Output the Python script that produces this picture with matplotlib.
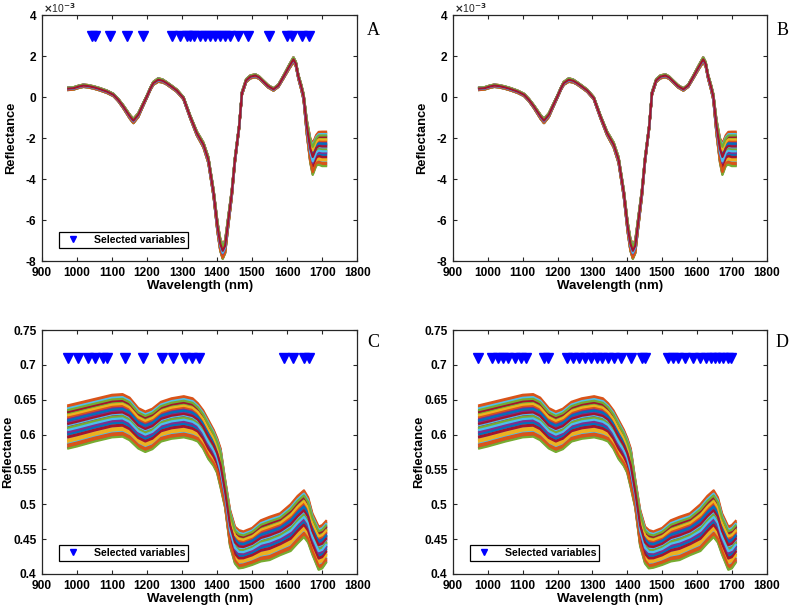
import matplotlib
matplotlib.use("Agg")
import matplotlib.pyplot as plt
import numpy as np

# ---- data ----
# derivative spectra (A, B), values in units of 1e-3
wl_deriv = [975, 990, 1005, 1018, 1030, 1047, 1065, 1085, 1104, 1118,
            1132, 1151, 1161, 1175, 1188, 1199, 1210, 1218, 1232, 1245,
            1256, 1270, 1285, 1304, 1323, 1342, 1361, 1375, 1390, 1401,
            1409, 1416, 1423, 1430, 1442, 1451, 1463, 1471, 1483, 1495,
            1509, 1520, 1532, 1546, 1561, 1575, 1590, 1605, 1618, 1625,
            1632, 1640, 1647, 1656, 1666, 1673, 1683, 1690, 1700, 1711]
deriv_mean = [0.40, 0.42, 0.50, 0.55, 0.53, 0.47, 0.38, 0.26, 0.10, -0.15,
              -0.47, -0.96, -1.17, -0.88, -0.40, 0.00, 0.42, 0.67, 0.83, 0.78,
              0.67, 0.50, 0.31, -0.06, -0.96, -1.77, -2.34, -3.07, -4.70, -6.33,
              -7.20, -7.55, -7.30, -6.33, -4.70, -3.07, -1.45, 0.18, 0.80, 0.98,
              1.04, 0.95, 0.75, 0.52, 0.37, 0.55, 0.99, 1.45, 1.82, 1.60,
              0.99, 0.50, 0.00, -1.45, -2.60, -3.03, -2.60, -2.50, -2.53, -2.53]
deriv_spread = [0.12, 0.12, 0.12, 0.12, 0.12, 0.12, 0.12, 0.12, 0.12, 0.12,
                0.15, 0.20, 0.22, 0.20, 0.15, 0.12, 0.12, 0.15, 0.18, 0.15,
                0.12, 0.12, 0.12, 0.12, 0.15, 0.20, 0.25, 0.30, 0.35, 0.50,
                0.60, 0.70, 0.65, 0.50, 0.35, 0.25, 0.18, 0.15, 0.15, 0.15,
                0.15, 0.12, 0.12, 0.12, 0.12, 0.12, 0.15, 0.20, 0.25, 0.22,
                0.20, 0.25, 0.30, 0.70, 1.20, 1.54, 1.50, 1.60, 1.68, 1.68]

# raw reflectance spectra (C, D): upper and lower envelope
wl_raw = [975, 1000, 1050, 1100, 1130, 1150, 1175, 1195, 1215, 1240,
          1270, 1305, 1330, 1345, 1360, 1375, 1390, 1400, 1410, 1423,
          1437, 1451, 1462, 1475, 1500, 1525, 1550, 1580, 1610, 1630,
          1648, 1660, 1672, 1690, 1700, 1711]
raw_top = [0.642, 0.645, 0.651, 0.657, 0.658, 0.653, 0.638, 0.633, 0.637, 0.647,
           0.652, 0.655, 0.652, 0.645, 0.635, 0.621, 0.607, 0.595, 0.580, 0.535,
           0.492, 0.468, 0.463, 0.461, 0.466, 0.477, 0.482, 0.487, 0.500, 0.512,
           0.520, 0.510, 0.487, 0.468, 0.470, 0.476]
raw_bottom = [0.580, 0.583, 0.590, 0.596, 0.597, 0.592, 0.580, 0.575, 0.579, 0.590,
              0.594, 0.596, 0.593, 0.590, 0.580, 0.565, 0.555, 0.545, 0.524, 0.495,
              0.440, 0.415, 0.408, 0.409, 0.413, 0.418, 0.420, 0.427, 0.433, 0.444,
              0.453, 0.445, 0.428, 0.406, 0.408, 0.416]

# position of each sample inside the band (0 = lower edge, 1 = upper edge)
sample_pos = [0.62, 0.19, 0.95, 0.45, 0.78, 0.08, 0.52, 0.87, 0.32, 0.71,
              0.02, 0.59, 0.24, 0.83, 0.39, 1.00, 0.14, 0.66, 0.48, 0.91,
              0.28, 0.56, 0.05, 0.75, 0.36, 0.80, 0.11, 0.63, 0.42, 0.97,
              0.21, 0.69, 0.00, 0.54, 0.85, 0.33, 0.73, 0.17, 0.60, 0.47,
              0.93, 0.26, 0.65, 0.09, 0.77, 0.38, 0.89, 0.43, 0.57]

# selected variables (nm)
sel_A = [1043, 1050, 1094, 1142, 1189, 1270, 1294, 1315, 1323, 1335, 1351,
         1365, 1380, 1395, 1409, 1423, 1437, 1461, 1489, 1547, 1599, 1613,
         1642, 1661]
sel_C = [975, 1004, 1030, 1051, 1075, 1085, 1137, 1188, 1242, 1275, 1309,
         1328, 1347, 1590, 1618, 1647, 1661]
sel_D = [972, 1012, 1030, 1042, 1058, 1078, 1095, 1110, 1160, 1172, 1228,
         1245, 1262, 1280, 1296, 1312, 1328, 1345, 1362, 1383, 1412, 1441,
         1450, 1517, 1530, 1546, 1565, 1589, 1608, 1627, 1640, 1651, 1663,
         1675, 1688, 1698]

deriv_ticks = [-8, -6, -4, -2, 0, 2, 4]
raw_ticks = [0.4, 0.45, 0.5, 0.55, 0.6, 0.65, 0.7, 0.75]
raw_ticklabels = ['0.4', '0.45', '0.5', '0.55', '0.6', '0.65', '0.7', '0.75']

matlab_colors = ['#0072BD', '#D95319', '#EDB120', '#7E2F8E',
                 '#77AC30', '#4DBEEE', '#A2142F']

plt.rcParams['font.family'] = ['Liberation Sans', 'DejaVu Sans']
plt.rcParams['font.weight'] = 'bold'
axis_col = '#262626'

fig = plt.figure(figsize=(7.92, 6.11), dpi=100)
ax_A = fig.add_axes([0.053, 0.5728, 0.398, 0.4026])
ax_B = fig.add_axes([0.572, 0.5728, 0.396, 0.4026])
ax_C = fig.add_axes([0.053, 0.0606, 0.398, 0.3993])
ax_D = fig.add_axes([0.572, 0.0606, 0.396, 0.3993])


def style(ax, ylim, yticks, yticklabels, letter, letter_y, ylab_x):
    ax.set_xlim(900, 1800)
    ax.set_xticks(np.arange(900, 1801, 100))
    ax.set_ylim(*ylim)
    ax.set_yticks(yticks)
    ax.set_yticklabels(yticklabels, fontweight='bold')
    ax.set_xticklabels([str(v) for v in range(900, 1801, 100)], fontweight='bold')
    ax.tick_params(direction='in', top=True, right=True, length=3,
                   width=0.8, labelsize=8.6, colors=axis_col, pad=4,
                   labelcolor='black')
    for s in ax.spines.values():
        s.set_color(axis_col)
        s.set_linewidth(0.9)
    ax.set_xlabel('Wavelength (nm)', fontsize=9.5, fontweight='bold', labelpad=1)
    ax.set_ylabel('Reflectance', fontsize=9.3, fontweight='bold')
    ax.yaxis.set_label_coords(ylab_x, 0.5)
    ax.text(1.05, letter_y, letter, transform=ax.transAxes, fontsize=13,
            family='Liberation Serif', fontweight='normal',
            ha='center', va='center')


def draw_deriv(ax):
    mean = np.array(deriv_mean)
    spread = np.array(deriv_spread)
    for i, p in enumerate(sample_pos):
        ax.plot(wl_deriv, mean + (p - 0.5) * spread,
                color=matlab_colors[i % 7], lw=1.6)


def draw_raw(ax):
    top = np.array(raw_top)
    bot = np.array(raw_bottom)
    for i, p in enumerate(sample_pos):
        ax.plot(wl_raw, bot + p * (top - bot),
                color=matlab_colors[i % 7], lw=1.6)


def add_selected(ax, sel, yval):
    ax.plot(sel, [yval] * len(sel), 'v', color='#0000FF', ms=7.5,
            mec='#0000FF', ls='none', label='Selected variables')
    leg = ax.legend(loc='lower left', bbox_to_anchor=(0.054, 0.052),
                    prop={'weight': 'bold', 'size': 7.6},
                    fancybox=False, edgecolor='black', framealpha=1,
                    handletextpad=1.0, borderpad=0.3, markerscale=0.65,
                    handlelength=2.0, borderaxespad=0)
    leg.get_frame().set_linewidth(0.9)


def exponent(ax):
    ax.text(0.003, 1.002, r'$\times$10$^{-3}$', transform=ax.transAxes,
            fontsize=7.5, fontweight='normal', ha='left', va='bottom',
            color=axis_col)


# A
draw_deriv(ax_A)
add_selected(ax_A, sel_A, 3.0)
style(ax_A, (-8, 4), deriv_ticks, [str(v) for v in deriv_ticks], 'A', 0.936, -0.078)
exponent(ax_A)

# B
draw_deriv(ax_B)
style(ax_B, (-8, 4), deriv_ticks, [str(v) for v in deriv_ticks], 'B', 0.936, -0.078)
exponent(ax_B)

# C
draw_raw(ax_C)
add_selected(ax_C, sel_C, 0.71)
style(ax_C, (0.4, 0.75), raw_ticks, raw_ticklabels, 'C', 0.947, -0.088)

# D
draw_raw(ax_D)
add_selected(ax_D, sel_D, 0.71)
style(ax_D, (0.4, 0.75), raw_ticks, raw_ticklabels, 'D', 0.947, -0.088)

fig.savefig('out.png', dpi=100)
